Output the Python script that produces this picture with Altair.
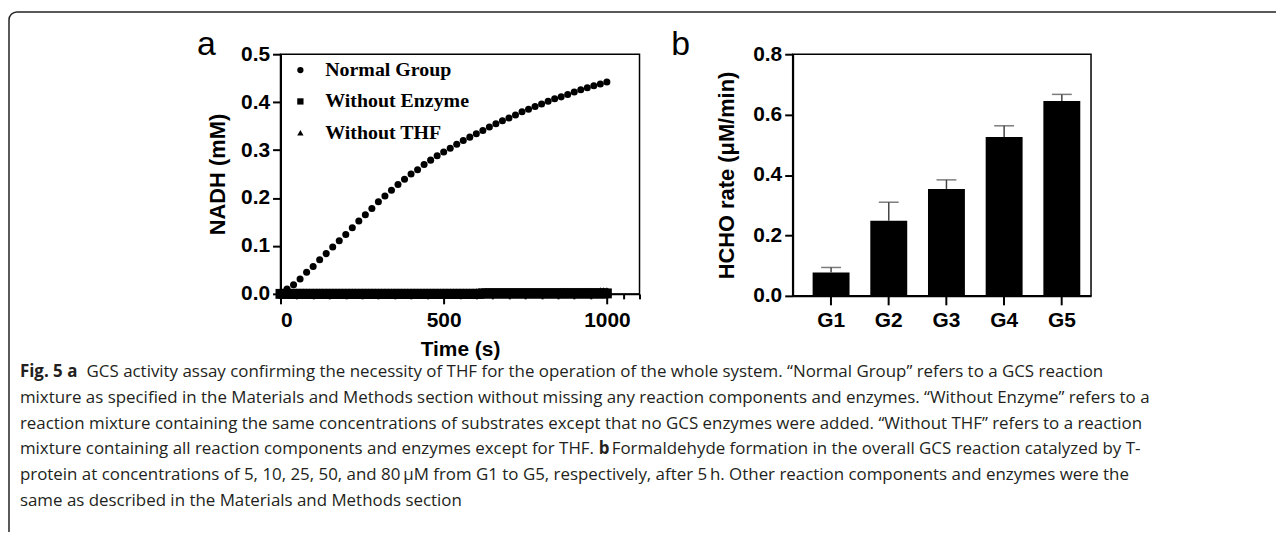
import altair as alt
import pandas as pd

# ---------------- data ----------------
times = [0, 20, 40, 60, 80, 100, 120, 140, 160, 180, 200, 220, 240, 260, 280, 300,
         320, 340, 360, 380, 400, 420, 440, 460, 480, 500, 520, 540, 560, 580, 600,
         620, 640, 660, 680, 700, 720, 740, 760, 780, 800, 820, 840, 860, 880, 900,
         920, 940, 960, 980, 1000]
normal_group = [0.002, 0.010, 0.019, 0.031, 0.045, 0.057, 0.071, 0.084, 0.098, 0.111,
                0.124, 0.138, 0.152, 0.165, 0.178, 0.192, 0.204, 0.216, 0.228, 0.239,
                0.250, 0.259, 0.270, 0.279, 0.288, 0.296, 0.304, 0.312, 0.320, 0.327,
                0.334, 0.341, 0.348, 0.355, 0.361, 0.367, 0.373, 0.380, 0.385, 0.391,
                0.396, 0.402, 0.407, 0.411, 0.416, 0.421, 0.426, 0.430, 0.434, 0.438,
                0.442]
# the two control series are sampled every 10 s
times_ctrl = [0, 10, 20, 30, 40, 50, 60, 70, 80, 90, 100, 110, 120, 130, 140, 150, 160,
              170, 180, 190, 200, 210, 220, 230, 240, 250, 260, 270, 280, 290, 300, 310,
              320, 330, 340, 350, 360, 370, 380, 390, 400, 410, 420, 430, 440, 450, 460,
              470, 480, 490, 500, 510, 520, 530, 540, 550, 560, 570, 580, 590, 600, 610,
              620, 630, 640, 650, 660, 670, 680, 690, 700, 710, 720, 730, 740, 750, 760,
              770, 780, 790, 800, 810, 820, 830, 840, 850, 860, 870, 880, 890, 900, 910,
              920, 930, 940, 950, 960, 970, 980, 990, 1000]
without_enzyme = [0.000, 0.000, 0.000, 0.000, 0.000, 0.000, 0.000, 0.000, 0.000, 0.000,
                  0.000, 0.000, 0.000, 0.000, 0.000, 0.000, 0.000, 0.000, 0.000, 0.000,
                  0.000, 0.000, 0.000, 0.000, 0.000, 0.000, 0.000, 0.000, 0.000, 0.000,
                  0.000, 0.000, 0.000, 0.000, 0.000, 0.000, 0.000, 0.000, 0.000, 0.000,
                  0.000, 0.000, 0.000, 0.000, 0.000, 0.000, 0.000, 0.000, 0.000, 0.000,
                  0.000, 0.000, 0.000, 0.000, 0.000, 0.000, 0.000, 0.000, 0.000, 0.000,
                  0.000, 0.000, 0.001, 0.001, 0.001, 0.001, 0.001, 0.001, 0.001, 0.001,
                  0.001, 0.001, 0.001, 0.001, 0.001, 0.001, 0.001, 0.001, 0.001, 0.001,
                  0.001, 0.001, 0.001, 0.001, 0.001, 0.001, 0.001, 0.001, 0.001, 0.001,
                  0.001, 0.001, 0.001, 0.001, 0.001, 0.001, 0.001, 0.001, 0.001, 0.001,
                  0.001]
without_thf = [0.002, 0.002, 0.002, 0.002, 0.002, 0.002, 0.002, 0.002, 0.002, 0.002,
               0.002, 0.002, 0.002, 0.002, 0.002, 0.002, 0.002, 0.002, 0.002, 0.002,
               0.002, 0.002, 0.002, 0.002, 0.002, 0.002, 0.002, 0.002, 0.002, 0.002,
               0.002, 0.002, 0.002, 0.002, 0.002, 0.002, 0.002, 0.002, 0.002, 0.002,
               0.002, 0.002, 0.002, 0.002, 0.002, 0.002, 0.002, 0.002, 0.002, 0.002,
               0.002, 0.002, 0.002, 0.002, 0.002, 0.002, 0.002, 0.002, 0.002, 0.002,
               0.003, 0.003, 0.003, 0.003, 0.003, 0.003, 0.003, 0.003, 0.003, 0.003,
               0.003, 0.003, 0.003, 0.003, 0.003, 0.003, 0.003, 0.003, 0.003, 0.003,
               0.003, 0.003, 0.003, 0.003, 0.003, 0.003, 0.004, 0.004, 0.004, 0.004,
               0.004, 0.004, 0.004, 0.004, 0.004, 0.004, 0.004, 0.004, 0.005, 0.005,
               0.005]
series_names = ["Normal Group", "Without Enzyme", "Without THF"]

groups = ["G1", "G2", "G3", "G4", "G5"]
hcho_rate = [0.077, 0.249, 0.354, 0.526, 0.645]
hcho_err = [0.017, 0.061, 0.030, 0.037, 0.022]

caption_lines = [
    ("Fig. 5 a", "GCS activity assay confirming the necessity of THF for the operation of the whole system. \u201cNormal Group\u201d refers to a GCS reaction"),
    ("", "mixture as specified in the Materials and Methods section without missing any reaction components and enzymes. \u201cWithout Enzyme\u201d refers to a"),
    ("", "reaction mixture containing the same concentrations of substrates except that no GCS enzymes were added. \u201cWithout THF\u201d refers to a reaction"),
    ("", "mixture containing all reaction components and enzymes except for THF."),
    ("", "protein at concentrations of 5, 10, 25, 50, and 80\u2009\u03bcM from G1 to G5, respectively, after 5\u2009h. Other reaction components and enzymes were the"),
    ("", "same as described in the Materials and Methods section"),
]
caption_b_bold = "b"
caption_b_rest = "Formaldehyde formation in the overall GCS reaction catalyzed by T-"

# ---------------- tables ----------------
rows = []
for t, v in zip(times, normal_group):
    rows.append({"time": t, "value": v, "series": "Normal Group", "order": 2})
for t, v in zip(times_ctrl, without_enzyme):
    rows.append({"time": t, "value": v, "series": "Without Enzyme", "order": 0})
for t, v in zip(times_ctrl, without_thf):
    rows.append({"time": t, "value": v, "series": "Without THF", "order": 1})
curve_df = pd.DataFrame(rows)

bar_df = pd.DataFrame({"group": groups, "rate": hcho_rate,
                       "top": [r + e for r, e in zip(hcho_rate, hcho_err)]})

SANS = "Liberation Sans"
axis_common = dict(domainColor="black", domainWidth=2, tickColor="black", tickWidth=2,
                   labelFont=SANS, labelFontWeight="bold", labelFontSize=21, labelColor="black",
                   titleFont=SANS, titleFontWeight="bold", titleFontSize=22, titleColor="black",
                   grid=False)

# ---------------- panel a ----------------
WA, HA = 361, 241
xa = alt.X("time:Q", title="Time (s)",
           scale=alt.Scale(domain=[0, 1100], nice=False, zero=False),
           axis=alt.Axis(values=[0, 50, 100, 150, 200, 250, 300, 350, 400, 450, 500, 550,
                                 600, 650, 700, 750, 800, 850, 900, 950, 1000, 1050, 1100],
                         format="d",
                         labelExpr="datum.value % 500 === 0 && datum.value <= 1000 ? datum.label : ''",
                         tickSize={"condition": {"test": "datum.value % 500 === 0", "value": 10}, "value": 5},
                         labelPadding=6, titlePadding=8,
                         **{**axis_common, "titleFontSize": 21}))
ya = alt.Y("value:Q", title="NADH (mM)",
           scale=alt.Scale(domain=[0, 0.5], nice=False),
           axis=alt.Axis(values=[0, 0.1, 0.2, 0.3, 0.4, 0.5], format=".1f", tickSize=8,
                         labelPadding=3, titlePadding=11, **axis_common))

points = alt.Chart(curve_df).mark_point(filled=True, color="black", opacity=1).encode(
    x=xa, y=ya,
    shape=alt.Shape("series:N",
                    scale=alt.Scale(domain=series_names, range=["circle", "square", "triangle-up"]),
                    legend=alt.Legend(orient="none", legendX=10, legendY=6, title=None,
                                      labelFont="Liberation Serif", labelFontWeight="bold",
                                      labelFontSize=20, labelColor="black", symbolSize=40,
                                      symbolFillColor="black", symbolStrokeWidth=0,
                                      rowPadding=11.5, labelOffset=15, padding=0)),
    size=alt.condition("datum.series == 'Normal Group'", alt.value(50), alt.value(100)),
    order=alt.Order("order:Q"),
)
letter_a = alt.Chart(pd.DataFrame({"t": ["a"]})).mark_text(
    align="left", baseline="alphabetic", font=SANS, fontSize=34, color="black"
).encode(text="t:N", x=alt.value(-84), y=alt.value(1))

panel_a = alt.layer(points, letter_a).properties(
    width=WA, height=HA, view=alt.ViewBackground(stroke="black", strokeWidth=1.5))

# ---------------- panel b ----------------
WB, HB = 300, 243
xb = alt.X("group:N", title=None, sort=groups,
           scale=alt.Scale(paddingInner=0.36, paddingOuter=0.266, align=0.65),
           axis=alt.Axis(labelAngle=0, tickSize=9, labelPadding=5, **axis_common))
yb_axis = alt.Axis(values=[0, 0.2, 0.4, 0.6, 0.8], format=".1f", tickSize=8,
                   labelPadding=3, titlePadding=14, **axis_common)
yb_scale = alt.Scale(domain=[0, 0.8], nice=False)

bars = alt.Chart(bar_df).mark_bar(color="black").encode(
    x=xb, y=alt.Y("rate:Q", title="HCHO rate (\u03bcM/min)", scale=yb_scale, axis=yb_axis))
err_rule = alt.Chart(bar_df).mark_rule(color="#444444", strokeWidth=1.5).encode(
    x=alt.X("group:N", sort=groups), y=alt.Y("rate:Q"), y2="top:Q")
err_cap = alt.Chart(bar_df).mark_tick(color="#444444", thickness=1.5, size=20).encode(
    x=alt.X("group:N", sort=groups), y=alt.Y("top:Q"))
letter_b = alt.Chart(pd.DataFrame({"t": ["b"]})).mark_text(
    align="left", baseline="alphabetic", font=SANS, fontSize=34, color="black"
).encode(text="t:N", x=alt.value(-122), y=alt.value(1))

panel_b = alt.layer(bars, err_rule, err_cap, letter_b).properties(
    width=WB, height=HB, view=alt.ViewBackground(stroke="black", strokeWidth=1.5))

# ---------------- caption + frame (origin = page (282, 300)) ----------------
OX, OY = 282, 300
CAP_FONT = "Open Sans"
CAP_SIZE = 17
CAP_COLOR = "#231f20"
line_y = [372, 398, 424, 450, 476, 502]

cap_rows = []
for (bold, reg), yy in zip(caption_lines, line_y):
    if bold:
        cap_rows.append({"txt": bold, "px": 20 - OX, "py": yy - OY, "w": "bold"})
        cap_rows.append({"txt": reg, "px": 87 - OX, "py": yy - OY, "w": "normal"})
    else:
        cap_rows.append({"txt": reg, "px": 20 - OX, "py": yy - OY, "w": "normal"})
cap_rows.append({"txt": caption_b_bold, "px": 602 - OX, "py": line_y[3] - OY, "w": "bold"})
cap_rows.append({"txt": caption_b_rest, "px": 615 - OX, "py": line_y[3] - OY, "w": "normal"})
cap_df = pd.DataFrame(cap_rows)

cap_regular = alt.Chart(cap_df).transform_filter("datum.w == 'normal'").mark_text(
    align="left", baseline="middle", font=CAP_FONT, fontSize=CAP_SIZE, color=CAP_COLOR
).encode(text="txt:N", x=alt.X("px:Q", scale=None, axis=None), y=alt.Y("py:Q", scale=None, axis=None))
cap_bold = alt.Chart(cap_df).transform_filter("datum.w == 'bold'").mark_text(
    align="left", baseline="middle", font=CAP_FONT, fontSize=CAP_SIZE, fontWeight="bold", color=CAP_COLOR
).encode(text="txt:N", x=alt.X("px:Q", scale=None, axis=None), y=alt.Y("py:Q", scale=None, axis=None))

one = pd.DataFrame({"k": [0]})
frame_top = alt.Chart(one).mark_rule(color="#222222", strokeWidth=1.5).encode(
    x=alt.value(17 - OX), x2=alt.value(1283 - OX), y=alt.value(10 - OY))
frame_left = alt.Chart(one).mark_rule(color="#222222", strokeWidth=1.5).encode(
    x=alt.value(9 - OX), y=alt.value(18 - OY), y2=alt.value(533 - OY))
frame_corner = alt.Chart(one).mark_arc(color="#222222", radius=8.75, radius2=7.25,
                                       theta=4.7124, theta2=6.2832).encode(
    x=alt.value(17 - OX), y=alt.value(18 - OY))

caption = alt.layer(frame_top, frame_left, frame_corner, cap_regular, cap_bold).properties(
    width=361, height=10, view=alt.ViewBackground(strokeOpacity=0))

chart = alt.concat(panel_a, panel_b, caption, columns=2,
                   spacing={"row": 300 - 295.5, "column": 797 - 643},
                   bounds="flush").properties(
    padding={"left": 0, "top": 1, "right": 0, "bottom": 0}
).configure(font=SANS).configure_view(stroke="black")

chart.save("out.html", embed_options={"renderer": "svg", "actions": False})
